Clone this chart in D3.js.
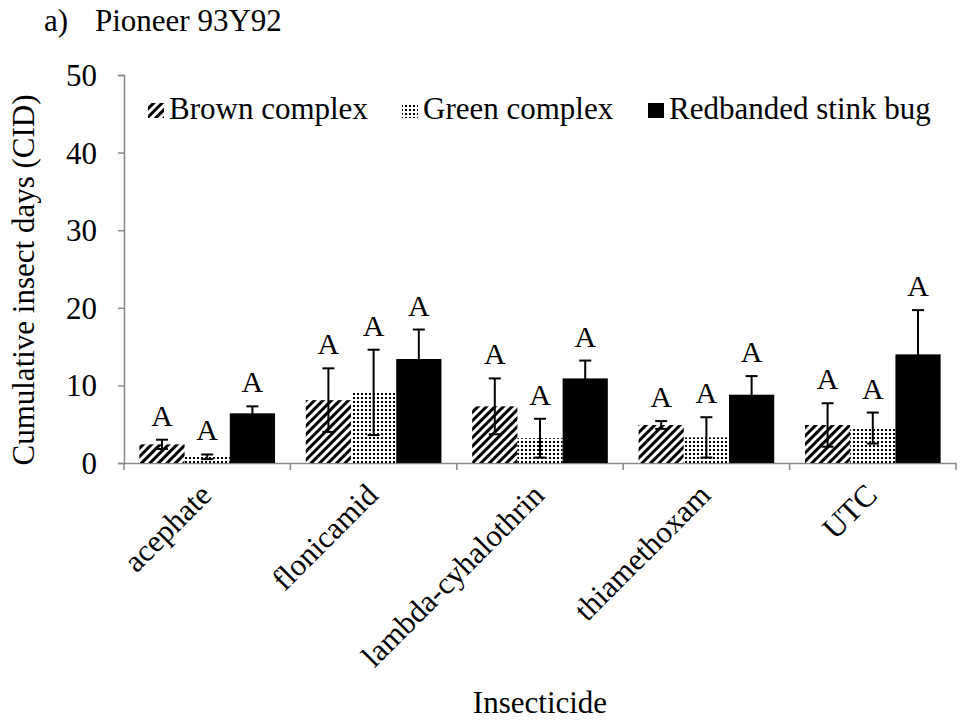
<!DOCTYPE html>
<html><head><meta charset="utf-8">
<script src="https://cdn.jsdelivr.net/npm/d3@7"></script>
<style>body{margin:0;background:#fff}</style>
</head><body>
<svg id="c" width="960" height="723"></svg>
<script>
const categories = ["acephate","flonicamid","lambda-cyhalothrin","thiamethoxam","UTC"];
const seriesNames = ["Brown complex","Green complex","Redbanded stink bug"];
const brownMean = [2.4, 8.1, 7.3, 4.9, 4.9];
const brownErr  = [0.6, 4.1, 3.6, 0.5, 2.8];
const greenMean = [0.8, 9.1, 3.2, 3.3, 4.5];
const greenErr  = [0.3, 5.5, 2.5, 2.6, 2.0];
const redMean   = [6.4, 13.4, 10.9, 8.8, 14.0];
const redErr    = [0.9, 3.8, 2.3, 2.4, 5.7];
const letters   = [["A","A","A","A","A"],["A","A","A","A","A"],["A","A","A","A","A"]];
const yTicks = [0,10,20,30,40,50];

const means=[brownMean,greenMean,redMean], errs=[brownErr,greenErr,redErr];
const svg=d3.select("#c");
const font="'Liberation Serif','Times New Roman',serif";
const FS=31;
const L=124,R=956,T=75,B=463;
const x=d3.scaleBand().domain(categories).range([L,R]).paddingInner(0).paddingOuter(0);
const xs=d3.scaleBand().domain(seriesNames).range([0,x.bandwidth()]).paddingInner(0).paddingOuter(0.34);
const y=d3.scaleLinear().domain([0,50]).range([B,T]);

const defs=svg.append("defs");
const p1=defs.append("pattern").attr("id","stripe").attr("patternUnits","userSpaceOnUse")
 .attr("width",6).attr("height",6).attr("patternTransform","rotate(45)");
p1.append("rect").attr("width",6).attr("height",6).attr("fill","#fff");
p1.append("rect").attr("width",3).attr("height",6).attr("fill","#000");
const p2=defs.append("pattern").attr("id","dots").attr("patternUnits","userSpaceOnUse")
 .attr("width",4).attr("height",4);
p2.append("rect").attr("width",4).attr("height",4).attr("fill","#fff");
p2.append("rect").attr("x",1).attr("y",1).attr("width",2).attr("height",2).attr("fill","#000");
const fills=["url(#stripe)","url(#dots)","#000"];

// axes
const ya=svg.append("g").attr("transform",`translate(${L},0)`)
 .call(d3.axisLeft(y).tickValues(yTicks).tickSize(6).tickPadding(21));
ya.select(".domain").attr("stroke","#888").attr("stroke-width",1.5);
ya.selectAll(".tick line").attr("stroke","#888").attr("stroke-width",1.5);
ya.selectAll("text").attr("font-family",font).attr("font-size",FS).attr("fill","#000").attr("dy","0.34em");

const xa=svg.append("g").attr("transform",`translate(0,${B})`)
 .call(d3.axisBottom(x).tickSize(0).tickFormat(""));
xa.select(".domain").attr("stroke","#888").attr("stroke-width",1.5);
const bounds=categories.map(c=>x(c)).concat([R]);
svg.append("g").selectAll("line").data(bounds).join("line")
 .attr("x1",d=>d).attr("x2",d=>d).attr("y1",B).attr("y2",B+7)
 .attr("stroke","#888").attr("stroke-width",1.5);

// bars
seriesNames.forEach((s,si)=>{
  const g=svg.append("g");
  categories.forEach((c,ci)=>{
    const x0=x(c)+xs(s), w=xs.bandwidth(), v=means[si][ci], e=errs[si][ci];
    g.append("rect").attr("x",x0).attr("y",y(v)).attr("width",w).attr("height",B-y(v))
     .attr("fill",fills[si]);
    const cx=x0+w/2;
    g.append("line").attr("x1",cx).attr("x2",cx).attr("y1",y(v+e)).attr("y2",y(Math.max(0,v-e)))
     .attr("stroke","#000").attr("stroke-width",2);
    [v+e,Math.max(0,v-e)].forEach(t=>g.append("line").attr("x1",cx-6).attr("x2",cx+6)
     .attr("y1",y(t)).attr("y2",y(t)).attr("stroke","#000").attr("stroke-width",2));
    g.append("text").attr("x",cx).attr("y",y(v+e)-14).attr("text-anchor","middle")
     .attr("font-family",font).attr("font-size",30).text(letters[si][ci]);
  });
});

// x labels
svg.append("g").selectAll("text").data(categories).join("text")
 .attr("transform",d=>`translate(${x(d)+x.bandwidth()/2+6},${B+34}) rotate(-45)`)
 .attr("text-anchor","end").attr("font-family",font).attr("font-size",FS).text(d=>d);

// titles
svg.append("text").attr("x",540).attr("y",713).attr("text-anchor","middle")
 .attr("font-family",font).attr("font-size",FS).text("Insecticide");
svg.append("text").attr("transform",`translate(34,280) rotate(-90)`).attr("text-anchor","middle")
 .attr("font-family",font).attr("font-size",FS).text("Cumulative insect days (CID)");
svg.append("text").attr("x",44).attr("y",31).attr("font-family",font).attr("font-size",FS).text("a)");
svg.append("text").attr("x",95).attr("y",31).attr("font-family",font).attr("font-size",FS).text("Pioneer 93Y92");

// legend
const legX=[148,402,648];
seriesNames.forEach((s,i)=>{
  svg.append("rect").attr("x",legX[i]).attr("y",103).attr("width",16).attr("height",15).attr("fill",fills[i]);
  svg.append("text").attr("x",legX[i]+21).attr("y",119).attr("font-family",font).attr("font-size",FS).text(s);
});
</script>
</body></html>
